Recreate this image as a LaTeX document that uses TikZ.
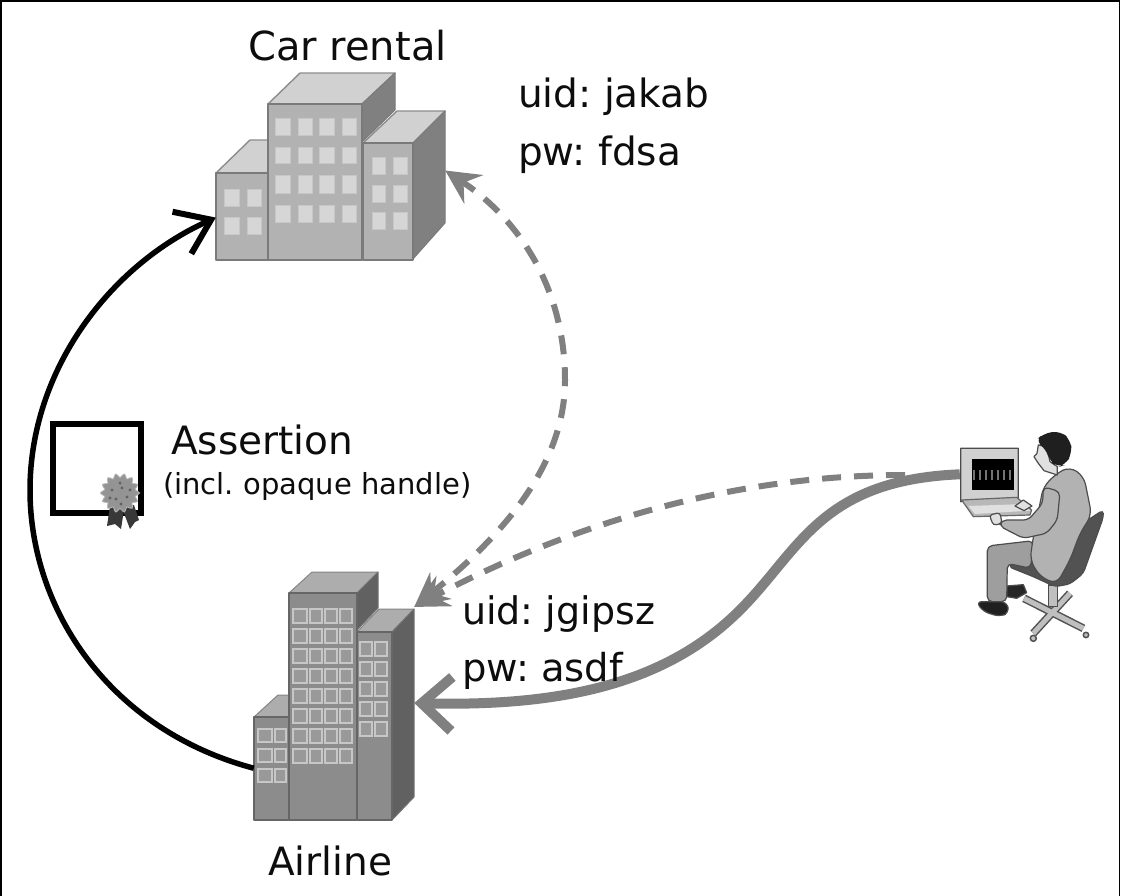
\documentclass[tikz,border=0pt]{standalone}
\usepackage{fontspec}
\setmainfont{DejaVu Sans}
\usetikzlibrary{arrows.meta}
\newcommand{\txt}[1]{\fontsize{#1}{#1}\selectfont\frenchspacing}
\tikzset{
  lbl/.style={anchor=base west,inner sep=0pt,text=black!95,font=\txt{39}},
  cfront/.style={fill=black!30,draw=black!52,line width=1.4pt,line join=round},
  croof/.style={fill=black!18,draw=black!45,line width=1.4pt,line join=round},
  cside/.style={fill=black!50,draw=black!52,line width=1pt,line join=round},
  cwin/.style={fill=black!16,draw=black!22,line width=.8pt},
  afront/.style={fill=black!45,draw=black!60,line width=1.4pt,line join=round},
  aroof/.style={fill=black!32,draw=black!48,line width=1pt,line join=round},
  aside/.style={fill=black!62,draw=black!55,line width=1pt,line join=round},
  awin/.style={fill=black!40,draw=black!22,line width=1.5pt},
  graytip/.tip={Stealth[length=34pt,width=34pt,inset=12pt]},
  dashgray/.style={draw=black!50,line width=6pt,dash pattern=on 19pt off 13pt},
  person/.style={draw=black!70,line width=1.2pt,line join=round},
}
\begin{document}
\begin{tikzpicture}[x=1pt,y=-1pt]
\useasboundingbox (0,0) rectangle (1121,895);
\fill[white] (0,0) rectangle (1121,895);
\draw[line width=1.5pt,black] (1,900) -- (1,1) -- (1119.5,1) -- (1119.5,900);

% regions the connectors attach to
\node[inner sep=0pt,minimum width=229pt,minimum height=187pt] (car) at (330.5,166.5) {};
\node[inner sep=0pt,minimum width=160pt,minimum height=248pt] (air) at (334,696) {};
\node[inner sep=0pt,minimum width=145pt,minimum height=215pt] (user) at (1032.5,537.5) {};
\coordinate (dashstart) at (905,475);

% Car rental building
\path[croof] (216,173) -- (250,140) -- (268,140) -- (268,173) -- cycle;
\path[cfront] (216,173) rectangle (268,260);
\path[croof] (268,104) -- (300,73) -- (395,73) -- (362,104) -- cycle;
\path[cside] (362,104) -- (395,73) -- (395,110) -- (362,142) -- cycle;
\path[cfront] (268,104) rectangle (362,260);
\path[croof] (363,143) -- (397,111) -- (445,111) -- (413,143) -- cycle;
\path[cside] (413,143) -- (445,111) -- (445,223) -- (413,259) -- cycle;
\path[cfront] (363,143) rectangle (413,260);
\foreach \x/\w in {275/15,298/14,319/15,342/14}
  \foreach \y/\h in {118/17,147/16,175/18,205/17}
    \path[cwin] (\x,\y) rectangle ++(\w,\h);
\foreach \x/\w in {224/15,247/14}
  \foreach \y in {189,217}
    \path[cwin] (\x,\y) rectangle ++(\w,17);
\foreach \x/\w in {372/13,393/14}
  \foreach \y in {157,185,212}
    \path[cwin] (\x,\y) rectangle ++(\w,17);

% Airline building
\path[aroof] (254,717) -- (278,695) -- (290,695) -- (290,717) -- cycle;
\path[afront] (254,717) rectangle (290,820);
\path[aroof] (289,593) -- (312,572) -- (378,572) -- (357,593) -- cycle;
\path[aside] (357,593) -- (378,572) -- (378,608) -- (357,630) -- cycle;
\path[afront] (289,593) rectangle (357,820);
\path[aroof] (357,632) -- (379,609) -- (414,609) -- (392,632) -- cycle;
\path[aside] (392,632) -- (414,609) -- (414,797) -- (392,820) -- cycle;
\path[afront] (357,632) rectangle (392,820);
\foreach \x/\w in {293/14,310/12,325/12,340/12}
  \foreach \i in {0,...,7}
    \path[awin] (\x,609+20*\i) rectangle ++(\w,14);
\foreach \x in {360,375}
  \foreach \i in {0,...,4}
    \path[awin] (\x,642+20*\i) rectangle ++(12,14);
\foreach \x/\w in {258/14,275/11}
  \foreach \y in {729,749,769}
    \path[awin] (\x,\y) rectangle ++(\w,13);

% Assertion certificate
\draw[line width=6.5pt,black] (53,424) rectangle (141,513);
\fill[black!78] (110,506) -- (107,526) -- (115,524) -- (121,529) -- (124,510) -- cycle;
\fill[black!78] (122,508) -- (130,529) -- (135,522) -- (139,520) -- (134,505) -- cycle;
\fill[black!42,draw=black!28,line width=.8pt] plot[domain=0:360,samples=57,smooth cycle]
  ({120+(17.5+2*cos(14*\x))*cos(\x)},{493+(17.5+2*cos(14*\x))*sin(\x)});
\foreach \a/\b in {112/490,122/488,127/497,116/499,120/483,130/490,110/498,121/504}
  \fill[black!62] (\a,\b) circle (1.6pt);

% Connectors
\draw[black,line width=5.5pt,-{Straight Barb[length=32pt,width=46pt,line width=6pt]}]
  (air.222.8) .. controls (110,730) and (30,610) .. (30,490)
  .. controls (30,370) and (110,265) .. (car.204);
\draw[dashgray,-{graytip}] (dashstart) .. controls (720,475) and (560,530) .. (air.48.7);
\draw[dashgray,{graytip}-{graytip}] (air.48.7) .. controls (510,530) and (565,460) .. (565,380)
  .. controls (565,290) and (520,220) .. (car.358);
\draw[black!50,line width=10pt,-{Straight Barb[length=30pt,width=54pt,line width=10pt]}]
  (user.139.2) .. controls (820,480) and (800,550) .. (740,610)
  .. controls (670,680) and (570,707) .. (air.355);

% User with terminal
\begin{scope}[shift={(900,420)},scale=0.3333]
  % chair base
  \draw[black!68,line width=8pt] (372,535) -- (550,625);
  \draw[black!68,line width=8pt] (510,520) -- (400,640);
  \draw[black!25,line width=5pt] (372,535) -- (550,625);
  \draw[black!25,line width=5pt] (510,520) -- (400,640);
  \draw[black!68,line width=1.5pt,fill=black!25] (400,655) circle (9pt) (558,645) circle (8pt);
  \path[person,fill=black!25] (445,495) -- (472,495) -- (472,560) -- (445,560) -- cycle;
  % monitor and desk
  \path[person,fill=black!18] (182,85) -- (355,85) -- (355,235) -- (182,245) -- cycle;
  \path[person,draw=black!60,fill=black!28] (185,240) -- (350,232) -- (395,270) -- (390,285) -- (220,290) -- cycle;
  \path[fill=black!12] (205,258) -- (375,252) -- (390,272) -- (225,282) -- cycle;
  \fill[black] (215,118) rectangle (342,210);
  \foreach \x in {222,240,258,276,294,312,330}
    \draw[black!55,line width=1.7pt] (\x,150) -- (\x,180);
  % shoes
  \path[person,fill=black!85] (320,498) -- (370,494) -- (380,518) -- (350,535) -- (320,530) -- cycle;
  % chair back and seat
  \path[person,fill=black!68,rounded corners=4pt] (548,310) -- (610,270) -- (610,292) -- (550,460)
     -- (510,492) -- (465,500) -- (400,470) -- (325,440) -- (400,380) -- (510,420) -- cycle;
  % legs
  \path[person,fill=black!38,rounded corners=5pt] (262,378) -- (400,362) -- (392,445) -- (322,430)
     -- (320,545) -- (262,545) -- cycle;
  \path[person,fill=black!88,rounded corners=6pt] (228,545) -- (320,545) -- (328,578) -- (300,590) -- (250,575) -- cycle;
  % far hand
  \path[person,fill=black!12] (345,258) -- (370,240) -- (396,258) -- (372,272) -- cycle;
  % torso
  \path[person,fill=black!30,rounded corners=8pt] (470,160) -- (510,140) -- (552,170) -- (575,285)
     -- (540,340) -- (510,420) -- (470,492) -- (420,470) -- (390,420) -- (400,350) -- (430,200) -- cycle;
  % head
  \path[person,fill=black!12] (415,75) -- (440,80) -- (450,125) -- (472,140) -- (472,165)
     -- (432,152) -- (415,130) -- (402,110) -- (411,100) -- cycle;
  \path[fill=black!88,rounded corners=8pt] (405,64) -- (430,40) -- (482,33) -- (512,60) -- (516,100)
     -- (496,135) -- (472,142) -- (448,122) -- (438,85) -- cycle;
  % near arm and hand
  \path[person,fill=black!30,rounded corners=5pt] (430,200) -- (480,215) -- (472,300) -- (440,340)
     -- (370,355) -- (298,318) -- (305,300) -- (385,300) -- (428,250) -- cycle;
  \path[person,fill=black!12,rounded corners=3pt] (268,285) -- (300,278) -- (306,310) -- (280,316) -- cycle;
\end{scope}

% Labels
\node[lbl,font=\txt{40}] (lcar) at (248,60) {Car rental};
\node[lbl] (lu1) at (518,107) {uid: jakab};
\node[lbl] (lp1) at (518,165) {pw: fdsa};
\node[lbl] (las) at (171,454) {Assertion};
\node[lbl,font=\txt{29}] (lin) at (163,494) {(incl. opaque handle)};
\node[lbl,font=\txt{38}] (lu2) at (462,624) {uid: jgipsz};
\node[lbl,font=\txt{38.5}] (lp2) at (462,681) {pw: asdf};
\node[lbl] (lai) at (268,875) {Airline};
\end{tikzpicture}
\end{document}
